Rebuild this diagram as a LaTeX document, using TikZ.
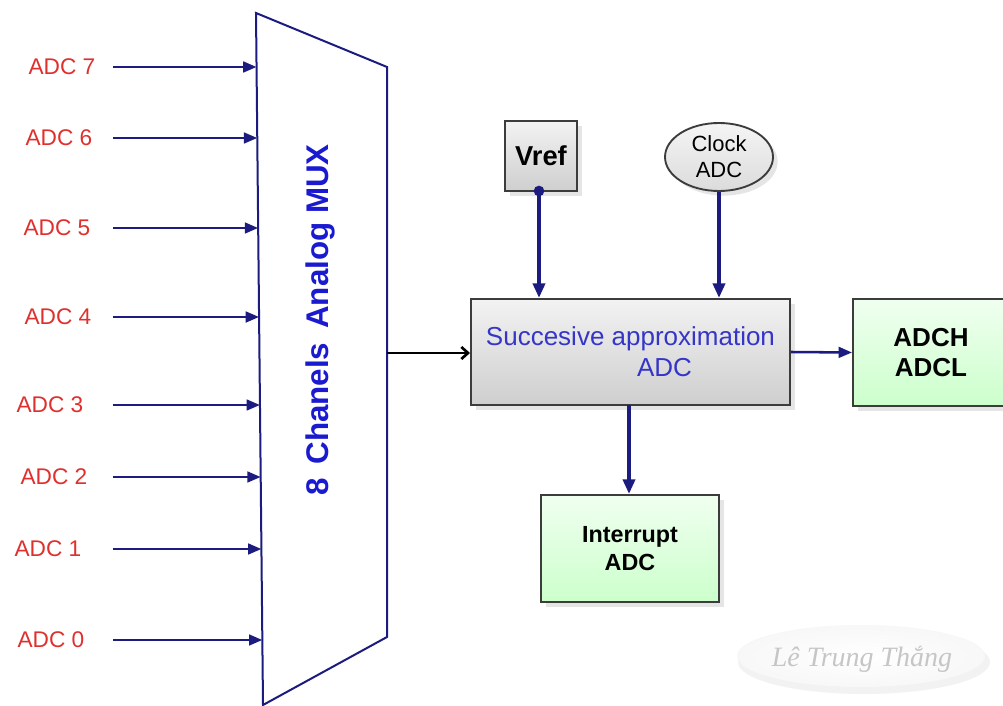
\documentclass[tikz,border=0pt]{standalone}
\usepackage{fontspec}
\setmainfont{Liberation Sans}
\newfontfamily\signfont{Liberation Serif}
\usetikzlibrary{arrows.meta,shadows,calc,shapes.geometric}

\definecolor{navy}{HTML}{1C1C80}
\definecolor{adcred}{HTML}{E0302E}
\definecolor{muxblue}{HTML}{1A1AD0}
\definecolor{sablue}{HTML}{3535C8}
\definecolor{edge}{HTML}{3C3C3C}

\tikzset{
  inlabel/.style={text=adcred, font=\fontsize{17}{20}\selectfont, inner sep=0pt},
  inarrow/.style={draw=navy, line width=1.9pt, -{Triangle[length=10pt,width=8pt]}},
  feed/.style={draw=navy, line width=2.8pt, -{Triangle[length=11pt,width=9pt]}},
  shadowed/.style={drop shadow={opacity=0.2, shadow xshift=3.5pt, shadow yshift=-3.5pt}},
  graybox/.style={draw=edge, line width=1.5pt, top color=gray!10, bottom color=gray!38,
    shadowed, inner sep=0pt},
  greenbox/.style={draw=edge, line width=1.5pt, top color=green!6, bottom color=green!20,
    shadowed, inner sep=0pt, align=center},
}

\begin{document}
\begin{tikzpicture}[x=0.75pt, y=-0.75pt]
  \useasboundingbox (0,0) rectangle (1003,706);
  \fill[white] (0,0) rectangle (1003,706);
  \clip (0,0) rectangle (1003,706);

  % multiplexer outline
  \coordinate (mTL) at (256,13);
  \coordinate (mTR) at (387,67);
  \coordinate (mBR) at (387,637);
  \coordinate (mBL) at (263,705);
  \draw[navy, line width=1.5pt, fill=white] (mTL) -- (mTR) -- (mBR) -- (mBL) -- cycle;
  \node[rotate=90, text=muxblue, font=\bfseries\fontsize{23.5}{26}\selectfont, inner sep=0pt]
    (muxtext) at (320,320) {8\, Chanels\, Analog MUX};

  % analog inputs
  \foreach \n/\ly/\lx in {7/67/62, 6/138/59, 5/228/57, 4/317/58, 3/405/50, 2/477/54, 1/549/48, 0/640/51}{
    \node[inlabel] (l\n) at (\lx,\ly) {ADC \n};
    \coordinate (s\n) at (113,\ly);
    \coordinate (m\n) at ({256+7*(\ly-13)/692},\ly);
    \draw[inarrow] (s\n) -- (m\n);
  }

  % converter and its sources
  \node[graybox, minimum width=239.25pt, minimum height=79.5pt, align=center,
        text=sablue, font=\fontsize{19.5}{23}\selectfont] (sa) at (630.5,352)
    {Succesive approximation\\\hspace*{51pt}ADC};
  \node[graybox, minimum width=54pt, minimum height=52.5pt,
        font=\bfseries\fontsize{20.5}{24}\selectfont] (vref) at (541,156) {Vref};
  \node[draw=edge, line width=1.4pt, ellipse, top color=gray!8, bottom color=gray!28,
        shadowed, minimum width=81pt, minimum height=51pt, inner sep=0pt, align=center,
        font=\fontsize{16.5}{19.5}\selectfont] (clk) at (719,157) {Clock\\ADC};

  % results
  \node[greenbox, minimum width=117pt, minimum height=80.25pt,
        font=\bfseries\fontsize{19.5}{23}\selectfont] (reg) at (931,352.5) {ADCH\\ADCL};
  \node[greenbox, minimum width=133.5pt, minimum height=80.25pt,
        font=\bfseries\fontsize{17.5}{20.5}\selectfont] (irq) at (630,548.5) {Interrupt\\ADC};

  % connections
  \coordinate (muxout) at (387,353);
  \draw[black, line width=2pt, -{Straight Barb[length=5pt,width=9pt]}] (muxout) -- (sa.west |- muxout);
  \coordinate (vdot) at (539,191);
  \fill[navy] (vdot) circle (4pt);
  \draw[feed] (vdot) -- (sa.north -| vdot);
  \draw[feed] (clk.south) -- (sa.north -| clk.south);
  \draw[inarrow] (sa.east) -- (reg.west);
  \coordinate (irqsrc) at (629,405);
  \draw[feed] (irqsrc) -- (irq.north -| irqsrc);

  % signature badge: soft lower rim, then a light face
  \fill[gray!10] (864,662) ellipse [x radius=126, y radius=32];
  \shade[inner color=white, outer color=gray!6] (861,656) ellipse [x radius=124, y radius=31];
  \node[text=gray!45, font=\signfont\itshape\fontsize{21}{24}\selectfont] (sig) at (862,659)
    {Lê Trung Thắng};
\end{tikzpicture}
\end{document}
